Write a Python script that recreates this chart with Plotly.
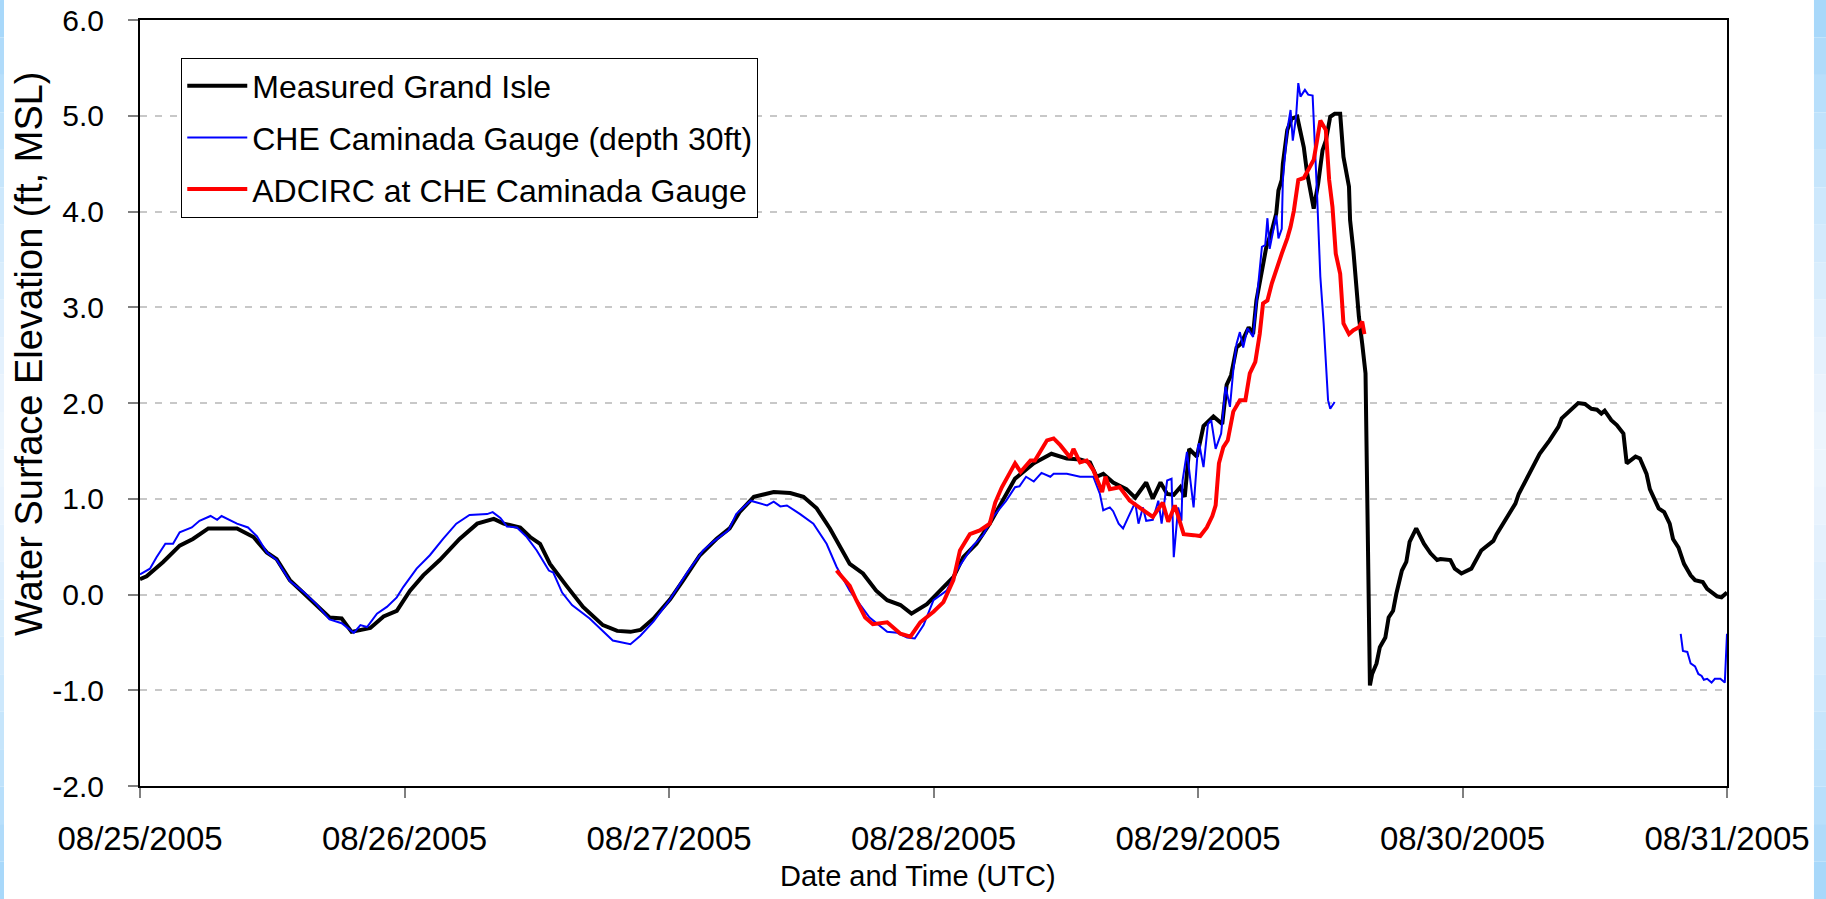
import pandas as pd
import plotly.graph_objects as go

# ---------------- data (hours after 08/25/2005 00:00 UTC, water level ft MSL) -------------
measured_hours = [0, 0.6, 2.1, 3.6, 4.8, 6.2, 8.8, 10.3, 11.5, 12.4, 13.6, 14.8, 16.0, 17.2, 18.3, 19.2,
                  20.9, 22.1, 23.3, 24.5, 25.7, 27.2, 29.0, 30.6, 32.1, 33.0, 34.5, 35.4, 36.3, 37.2, 38.7,
                  40.2, 42.0, 43.3, 44.5, 45.4, 46.6, 48.1, 49.3, 50.8, 52.3, 53.5, 54.4, 55.7, 57.5, 59.0,
                  60.2, 61.4, 62.6, 63.8, 64.4, 65.6, 66.8, 67.8, 69.0, 70.0, 71.4, 72.6, 73.8, 74.7, 75.9,
                  77.1, 78.3, 79.4, 81.1, 82.7, 84.1, 85.3, 86.2, 86.8, 87.4, 88.3, 89.5, 90.3, 91.3, 91.9,
                  92.6, 93.2, 93.8, 94.4, 94.8, 95.2, 95.9, 96.5, 97.4, 98.2, 98.6, 99.0, 99.5, 99.9, 100.6,
                  101.0, 101.3, 101.8, 102.2, 102.7, 103.1, 103.3, 103.6, 103.7, 104.1, 104.5, 105.0, 105.6,
                  105.9, 106.5, 106.9, 107.3, 107.6, 108.0, 108.4, 108.9, 109.2, 109.7, 109.8, 110.1, 110.6,
                  110.9, 111.2, 111.6, 111.8, 112.2, 112.5, 113.0, 113.3, 113.7, 114.0, 114.5, 114.9, 115.2,
                  115.8, 116.5, 117.1, 117.7, 118.0, 118.9, 119.3, 119.9, 120.8, 121.7, 122.8, 123.1, 124.0,
                  124.8, 125.1, 125.7, 126.4, 127.0, 127.9, 128.7, 129.0, 129.8, 130.5, 131.1, 131.7, 132.2,
                  132.6, 132.9, 133.5, 134.0, 134.6, 134.9, 135.7, 136.1, 136.7, 137.0, 137.5, 137.8, 138.3,
                  138.8, 139.1, 139.6, 140.1, 140.7, 141.1, 141.8, 142.2, 143.1, 143.5, 143.9, 144.0]
measured_level = [0.16, 0.19, 0.34, 0.51, 0.58, 0.69, 0.69, 0.60, 0.44, 0.37, 0.15, 0.02, -0.11, -0.24, -0.25, -0.39,
                  -0.35, -0.23, -0.17, 0.04, 0.20, 0.36, 0.58, 0.74, 0.79, 0.74, 0.70, 0.60, 0.53, 0.32, 0.09,
                  -0.13, -0.32, -0.38, -0.39, -0.37, -0.25, -0.05, 0.15, 0.41, 0.58, 0.69, 0.86, 1.02, 1.07, 1.06,
                  1.02, 0.90, 0.69, 0.44, 0.32, 0.22, 0.04, -0.06, -0.11, -0.20, -0.10, 0.04, 0.18, 0.39, 0.53,
                  0.74, 0.98, 1.21, 1.37, 1.47, 1.42, 1.41, 1.38, 1.23, 1.26, 1.17, 1.10, 1.01, 1.17, 1.00,
                  1.17, 1.05, 1.04, 1.12, 1.02, 1.52, 1.44, 1.76, 1.86, 1.78, 2.19, 2.29, 2.58, 2.62, 2.79,
                  2.72, 3.07, 3.39, 3.63, 3.80, 3.98, 4.22, 4.33, 4.50, 4.85, 4.97, 4.99, 4.67,
                  4.40, 4.03, 4.29, 4.64, 4.74, 4.99, 5.02, 5.02, 4.57, 4.26, 3.91, 3.59, 2.90,
                  2.62, 2.31, -0.95, -0.83, -0.72, -0.55, -0.45, -0.24, -0.17, 0.01, 0.25, 0.34, 0.55,
                  0.69, 0.53, 0.43, 0.36, 0.37, 0.36, 0.27, 0.22, 0.27, 0.46, 0.56, 0.63, 0.81,
                  0.95, 1.05, 1.19, 1.33, 1.47, 1.61, 1.75, 1.84, 1.92, 2.00, 1.99, 1.94, 1.93,
                  1.89, 1.92, 1.82, 1.77, 1.68, 1.37, 1.44, 1.42, 1.26, 1.10, 0.98, 0.90, 0.86,
                  0.74, 0.58, 0.49, 0.32, 0.20, 0.15, 0.13, 0.06, -0.02, -0.03, 0.01, 0.02]

gauge_hours = [0, 0.9, 1.5, 2.3, 3.0, 3.6, 4.7, 5.4, 6.4, 7.0, 7.4, 8.8, 9.8, 10.6, 11.5, 12.4, 13.6, 14.8,
               16.0, 17.2, 18.3, 19.4, 20.0, 20.6, 21.5, 22.4, 23.3, 23.9, 25.1, 26.3, 27.5, 28.7, 29.9,
               31.5, 32.0, 32.7, 33.3, 34.2, 35.1, 36.0, 37.1, 37.5, 38.3, 39.2, 40.8, 42.0, 42.9, 44.5,
               45.4, 46.6, 48.1, 49.6, 51.1, 52.0, 53.4, 54.1, 55.4, 56.9, 57.5, 58.1, 58.7, 59.9, 61.1,
               62.3, 63.2, 64.4, 65.3, 66.2, 67.8, 68.7, 69.6, 70.3, 71.1, 72.0, 73.2, 74.1, 75.6, 76.5,
               77.4, 78.6, 79.4, 79.8, 80.4, 81.1, 81.8, 82.6, 82.9, 84.1, 85.3, 86.5, 87.1, 87.4, 88.0,
               88.3, 88.8, 89.2, 89.8, 90.3, 90.6, 91.0, 91.3, 91.9, 92.4, 92.7, 93.2, 93.6, 93.8, 94.2,
               94.5, 94.6, 95.0, 95.6, 96.0, 96.1, 96.5, 96.9, 97.2, 97.6, 98.1, 98.5, 98.9, 99.2, 99.5,
               99.8, 100.1, 100.5, 101.0, 101.3, 101.6, 101.8, 102.1, 102.3, 102.5, 102.9, 103.1, 103.3,
               103.6, 103.7, 104.1, 104.4, 104.6, 104.9, 105.1, 105.3, 105.7, 106.0, 106.4, 106.8, 107.1,
               107.4, 107.7, 107.8, 108.0, 108.4, 124.0,
               139.8, 140.0, 140.4, 140.7, 141.1, 141.4, 141.7, 141.9, 142.2, 142.6, 142.9, 143.4, 143.8, 144.0]
gauge_level = [0.21, 0.27, 0.39, 0.53, 0.53, 0.65, 0.70, 0.77, 0.82, 0.78, 0.82, 0.74, 0.70, 0.61, 0.44, 0.36, 0.14, 0.03,
               -0.10, -0.26, -0.30, -0.40, -0.32, -0.34, -0.20, -0.13, -0.03, 0.08, 0.27, 0.41, 0.58, 0.74, 0.83,
               0.84, 0.86, 0.80, 0.71, 0.70, 0.60, 0.46, 0.25, 0.23, 0.02, -0.11, -0.25, -0.38, -0.48, -0.52,
               -0.43, -0.28, -0.05, 0.22, 0.46, 0.55, 0.67, 0.84, 0.98, 0.93, 0.97, 0.92, 0.93, 0.84, 0.74,
               0.53, 0.29, 0.04, -0.10, -0.24, -0.39, -0.40, -0.45, -0.46, -0.32, -0.06, 0.04, 0.25, 0.51, 0.62,
               0.81, 0.98, 1.12, 1.13, 1.23, 1.18, 1.27, 1.23, 1.26, 1.26, 1.23, 1.23, 1.05, 0.88, 0.91,
               0.87, 0.74, 0.69, 0.84, 0.96, 0.74, 0.91, 0.77, 0.78, 0.98, 0.74, 1.19, 1.21, 0.39, 0.91,
               0.77, 1.19, 1.49, 0.91, 1.54, 1.58, 1.33, 1.78, 1.82, 1.52, 1.68, 2.17, 1.96, 2.34, 2.62,
               2.74, 2.58, 2.78, 2.69, 3.04, 3.39, 3.63, 3.65, 3.93, 3.61, 3.87, 3.96, 3.72,
               3.82, 4.33, 4.85, 5.06, 4.74, 4.99, 5.34, 5.20, 5.27, 5.22, 5.21, 4.19, 3.32,
               2.83, 2.20, 2.03, 1.94, 2.01, None,
               -0.41, -0.59, -0.60, -0.72, -0.75, -0.83, -0.85, -0.89, -0.88, -0.92, -0.88, -0.88, -0.92, -0.41]

adcirc_hours = [63.2, 64.4, 65.0, 65.8, 66.5, 67.8, 69.0, 69.9, 70.8, 72.0, 72.9, 73.8, 74.4, 75.3, 76.2, 77.1,
                77.6, 78.2, 79.4, 79.9, 80.8, 81.2, 82.3, 82.9, 83.5, 84.4, 84.7, 85.3, 85.9, 86.5, 87.3,
                87.6, 88.0, 88.9, 89.8, 90.7, 91.9, 92.8, 93.3, 93.9, 94.7, 95.6, 96.2, 96.8, 97.3, 97.6,
                97.9, 98.3, 98.7, 99.2, 99.8, 100.3, 100.7, 101.2, 101.6, 101.9, 102.3, 102.7, 103.1, 103.6,
                104.1, 104.4, 104.7, 105.1, 105.6, 106.0, 106.5, 106.8, 107.1, 107.6, 107.9, 108.2, 108.5,
                108.9, 109.2, 109.7, 110.1, 110.6, 110.9, 111.1]
adcirc_level = [0.25, 0.09, -0.06, -0.24, -0.31, -0.29, -0.41, -0.44, -0.29, -0.18, -0.08, 0.15, 0.46, 0.63, 0.67, 0.74,
                0.96, 1.12, 1.37, 1.28, 1.40, 1.40, 1.61, 1.63, 1.56, 1.43, 1.52, 1.38, 1.40, 1.30, 1.07,
                1.23, 1.10, 1.12, 0.98, 0.91, 0.81, 0.96, 0.76, 0.93, 0.63, 0.62, 0.61, 0.70, 0.82, 0.93,
                1.37, 1.54, 1.61, 1.91, 2.03, 2.03, 2.31, 2.43, 2.72, 3.04, 3.07, 3.25, 3.40, 3.56,
                3.72, 3.84, 4.01, 4.33, 4.35, 4.43, 4.54, 4.74, 4.95, 4.85, 4.33, 4.05, 3.56,
                3.35, 2.83, 2.72, 2.76, 2.79, 2.85, 2.72]

series_names = ["Measured Grand Isle", "CHE Caminada Gauge (depth 30ft)", "ADCIRC at CHE Caminada Gauge"]
y_tick_values = [-2, -1, 0, 1, 2, 3, 4, 5, 6]
y_tick_labels = ["-2.0", "-1.0", "0.0", "1.0", "2.0", "3.0", "4.0", "5.0", "6.0"]
x_title = "Date and Time (UTC)"
y_title = "Water Surface Elevation (ft, MSL)"
start_date = "2005-08-25"
end_date = "2005-08-31"

# ---------------- figure -------------
t0 = pd.Timestamp(start_date)


def to_time(hours):
    return [t0 + pd.Timedelta(hours=h) for h in hours]


FONT = "Liberation Sans, Arial, sans-serif"

fig = go.Figure()
fig.add_trace(go.Scatter(x=to_time(measured_hours), y=measured_level, mode="lines",
                         name=series_names[0], legendgroup="a",
                         line=dict(color="#000000", width=4)))
fig.add_trace(go.Scatter(x=to_time(gauge_hours), y=gauge_level, mode="lines",
                         name=series_names[1], legendgroup="b", connectgaps=False,
                         line=dict(color="#0000ff", width=2)))
fig.add_trace(go.Scatter(x=to_time(adcirc_hours), y=adcirc_level, mode="lines",
                         name=series_names[2], legendgroup="c",
                         line=dict(color="#ff0000", width=4)))

# light-blue gradient strips at the left and right page edges
shapes = []
n = 24
y_top, y_bot = 1.0261, -0.1475
for i in range(n):
    f = (i + 0.5) / n
    d = abs(f - 0.5) * 2  # 1 at ends, 0 in middle
    r = int(238 - (238 - 165) * d ** 1.3)
    g = int(246 - (246 - 215) * d ** 1.3)
    b = int(254 - (254 - 250) * d ** 1.3)
    col = f"rgb({r},{g},{b})"
    ya = y_top - (y_top - y_bot) * i / n
    yb = y_top - (y_top - y_bot) * (i + 1) / n
    for x0, x1 in ((-0.0882, -0.0857), (1.0548, 1.0624)):
        shapes.append(dict(type="rect", xref="paper", yref="paper", x0=x0, x1=x1, y0=yb, y1=ya,
                           fillcolor=col, line=dict(width=0), layer="below"))

fig.update_layout(
    width=1826, height=899,
    margin=dict(l=140, r=99, t=20, b=113, autoexpand=False),
    paper_bgcolor="white", plot_bgcolor="white",
    font=dict(family=FONT, color="black", size=30),
    shapes=shapes,
    showlegend=True,
    legend=dict(x=0.026, y=0.951, xanchor="left", yanchor="top",
                bgcolor="white", bordercolor="black", borderwidth=1,
                font=dict(family=FONT, size=32, color="black"),
                traceorder="grouped", tracegroupgap=7, itemwidth=60),
    xaxis=dict(
        type="date", range=[start_date, end_date], automargin=False,
        tick0=start_date, dtick=86400000, tickformat="%m/%d/%Y",
        showgrid=False, zeroline=False,
        showline=True, linecolor="black", linewidth=2, mirror=True,
        ticks="outside", ticklen=10, tickcolor="#808080", tickwidth=1.5,
        ticklabelstandoff=12, ticklabeloverflow="allow",
        tickfont=dict(family=FONT, size=33, color="black"),
    ),
    yaxis=dict(
        range=[-2, 6], tickvals=y_tick_values, ticktext=y_tick_labels, automargin=False,
        showgrid=True, gridcolor="#c8c8c8", gridwidth=1.5, griddash="7px,8px",
        zeroline=False,
        showline=True, linecolor="black", linewidth=2, mirror=True,
        ticks="outside", ticklen=10, tickcolor="#808080", tickwidth=1.5,
        ticklabelstandoff=18, ticklabeloverflow="allow",
        tickfont=dict(family=FONT, size=30, color="black"),
    ),
    annotations=[
        dict(text=x_title, xref="paper", yref="paper", x=0.490, y=-0.1175,
             xanchor="center", yanchor="middle", showarrow=False,
             font=dict(family=FONT, size=29, color="black")),
        dict(text=y_title, xref="paper", yref="paper", x=-0.0699, y=0.564, textangle=-90,
             xanchor="center", yanchor="middle", showarrow=False,
             font=dict(family=FONT, size=38, color="black")),
    ],
)

fig.write_html("out.html", config={"displayModeBar": False},
               post_script="document.body.style.margin='0px';document.body.style.overflow='hidden';")
